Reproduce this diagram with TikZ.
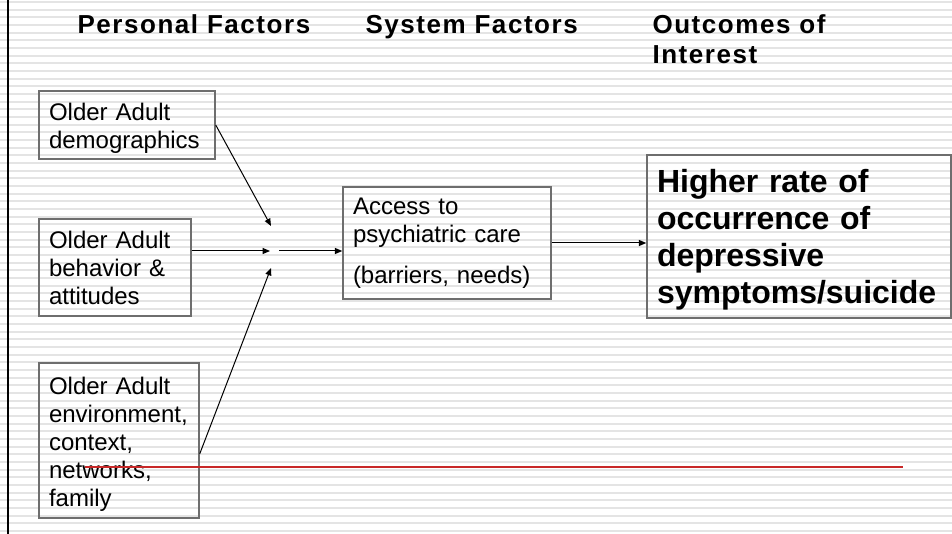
\documentclass[tikz,border=0pt]{standalone}
\usepackage{fontspec}
\setmainfont{Liberation Sans}
\newfontfamily\titlefont[LetterSpace=6]{Liberation Sans}
\usetikzlibrary{arrows.meta}
\definecolor{boxgray}{RGB}{110,110,110}
\tikzset{every picture/.style={line width=0.75pt}}

\begin{document}
\begin{tikzpicture}[x=0.75pt,y=0.75pt,yscale=-1,xscale=1,
  stripe/.style={color={rgb, 255:red, 228; green, 228; blue, 228}, line width=1.5pt},
  factor/.style={draw=boxgray, line width=1.1pt, align=left, inner xsep=7.5pt, inner ysep=0pt, font=\fontsize{18}{21}\selectfont},
  firstline/.style={execute at begin node={\rule{0pt}{#1}}},
  heading/.style={anchor=north west, inner sep=0pt, align=left, font=\titlefont\bfseries\fontsize{19.5}{22.5}\selectfont},
  link/.style={-{Triangle[length=5.5pt,width=4.5pt]}, line width=0.75pt}]
\useasboundingbox (0,0) rectangle (952,534);
%Background stripes
\foreach \k in {0,...,69}
  \draw[stripe] (0,{1.9+7.67*\k}) -- (952,{1.9+7.67*\k});
%Left border
\draw [line width=1.7pt] (8,0) -- (8,534);

% Text Node
\node[heading] (personal) at (77,14.5) {Personal Factors};
% Text Node
\node[heading] (system) at (365,14.5) {System Factors};
% Text Node
\node[heading] (outcomes) at (652,14.5) {Outcomes of\\Interest};

%Personal factor boxes
\node[factor, firstline=18.7pt, text width=117pt, minimum height=51pt] (demo) at (127,125) {Older Adult\\demographics};
\node[factor, text width=99pt, minimum height=72.75pt] (behav) at (115,267.5) {Older Adult\\behavior \&\\attitudes};
\node[factor, firstline=19.1pt, text width=105pt, minimum height=116.25pt] (envir) at (119,440.5) {Older Adult\\environment,\\context,\\networks,\\family};
%System factor box
\node[factor, text width=141pt, minimum height=84pt] (access) at (447,243) {Access to\\psychiatric care\\[10pt](barriers, needs)};
%Outcome box
\node[factor, firstline=22pt, text width=213pt, minimum height=122.25pt, font=\bfseries\fontsize{24}{27.75}\selectfont] (outcome) at (799,236.5) {Higher rate of\\occurrence of\\depressive\\symptoms/suicide};

%Junction points
\coordinate (upper) at (271,226);
\coordinate (middle) at (270,251);
\coordinate (lower) at (271,268);
\coordinate (onward) at (279,251);

%Straight Lines
\draw[link] (demo.east) -- (upper);
\draw[link] (behav.east |- middle) -- (middle);
\draw[link] ([yshift=10pt]envir.east) -- (lower);
\draw[link] (onward) -- (onward -| access.west);
\draw[link] (access.east) -- (access.east -| outcome.west);

%Red rule
\draw [color={rgb, 255:red, 200; green, 40; blue, 40 }, line width=0.8pt] (85,467) -- (903,467);
\end{tikzpicture}
\end{document}
